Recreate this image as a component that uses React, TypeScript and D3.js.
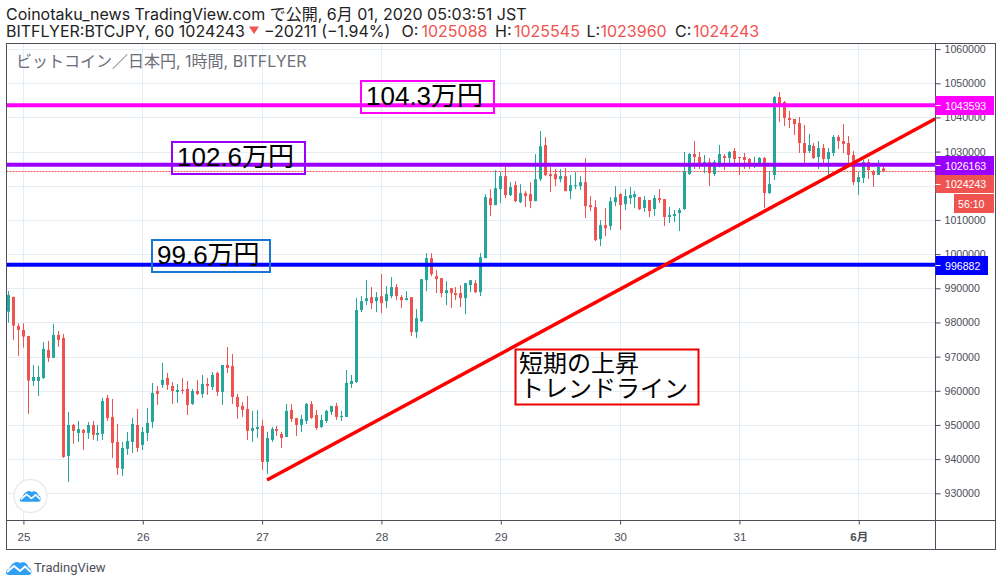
import { useEffect, useRef } from "react";
import * as d3 from "d3";

const opens = [
  983170, 987470, 978980, 977810, 976050, 962880, 962880, 963760, 971950, 969610,
  976340, 975470, 940930, 950000, 947660, 948540, 947660, 950000, 947080, 947370,
  957910, 952350, 945030, 937130, 943000, 945030, 950000, 944150, 947660, 950880,
  959960, 961710, 963760, 961420, 959660, 960250, 960540, 956150, 959960, 959080,
  962000, 961130, 965220, 959660, 967560, 967270, 958200, 955570, 954690, 948250,
  948830, 949710, 939180, 945620, 948830, 947370, 946490, 954400, 952050, 950000,
  951180, 956150, 952930, 949420, 951180, 953810, 955570, 952330, 952330, 961990,
  962580, 983600, 986240, 987410, 986240, 987700, 986240, 987700, 990340, 987410,
  986530, 987410, 977170, 980380, 992380, 998820, 993550, 992970, 988580, 990040,
  988580, 988580, 987110, 990920, 991500, 988870, 998820, 1016380, 1014330, 1019010,
  1022820, 1017260, 1020190, 1015210, 1017840, 1017550, 1015500, 1021940, 1031890, 1023400,
  1023400, 1021940, 1022820, 1018430, 1019890, 1019890, 1021060, 1014330, 1013750, 1004380,
  1008480, 1008190, 1015210, 1017550, 1014620, 1016380, 1016670, 1016670, 1013490, 1015830,
  1013200, 1016420, 1016130, 1010860, 1011150, 1012030, 1013200, 1023440, 1029290, 1028420,
  1026370, 1026950, 1023440, 1026560, 1028710, 1028120, 1030170, 1028420, 1028420, 1027830,
  1026370, 1026560, 1028120, 1017880, 1023150, 1045980, 1044510, 1039830, 1039540, 1038370,
  1032510, 1030170, 1031640, 1028420, 1031050, 1027830, 1029590, 1034270, 1033100, 1032510,
  1029000, 1021100, 1022270, 1026950, 1024320, 1023150, 1025088,
];

const highs = [
  989220, 987560, 979760, 979760, 976050, 967560, 967270, 974300, 974590, 979560,
  977510, 976640, 953810, 950300, 951180, 948830, 950880, 951180, 950000, 957910,
  958790, 957610, 950300, 945030, 947960, 952050, 954690, 949420, 954980, 962300,
  961420, 968150, 965220, 962590, 962000, 963760, 962880, 960540, 963170, 964640,
  963760, 965510, 965510, 967560, 972830, 970780, 959080, 956740, 958490, 954100,
  954400, 951470, 947960, 949420, 949710, 947960, 956150, 956150, 952050, 952930,
  956440, 957030, 954400, 952930, 954400, 955570, 956440, 954090, 966090, 964620,
  987160, 987700, 992380, 990340, 988870, 994140, 990630, 993260, 991210, 988000,
  989160, 987410, 983900, 992680, 1000280, 1000280, 995310, 992970, 992090, 990040,
  990340, 990920, 991500, 992380, 992380, 1000280, 1017550, 1019010, 1024570, 1023990,
  1025750, 1021060, 1021360, 1020480, 1018430, 1021060, 1029260, 1036000, 1034230, 1025450,
  1024870, 1024870, 1025160, 1023110, 1023990, 1022820, 1028090, 1016970, 1015800, 1009940,
  1013450, 1016670, 1019890, 1017840, 1019010, 1019600, 1018430, 1016670, 1017000, 1015830,
  1017300, 1019050, 1016130, 1013780, 1012910, 1013490, 1029880, 1029590, 1033100, 1029880,
  1029000, 1028120, 1027540, 1031930, 1029290, 1030170, 1031050, 1028420, 1029590, 1028120,
  1028510, 1028420, 1028420, 1024320, 1046270, 1047440, 1044800, 1041880, 1039540, 1040120,
  1037780, 1035150, 1032510, 1033100, 1032220, 1031050, 1034850, 1034850, 1038070, 1034560,
  1030170, 1024030, 1027540, 1027830, 1024610, 1027540, 1025545,
];

const lows = [
  979950, 974880, 970200, 972640, 953220, 961420, 958490, 963470, 968440, 969610,
  972830, 940350, 933320, 944450, 945030, 942690, 945910, 945620, 945320, 945620,
  951180, 940350, 935370, 935080, 941230, 941810, 942100, 942690, 945320, 949130,
  955860, 960830, 960250, 956150, 956440, 959080, 952930, 955860, 958790, 957910,
  958790, 960250, 958490, 955860, 965220, 956150, 951760, 952350, 945620, 945030,
  946200, 936840, 935670, 945030, 946790, 943280, 946490, 950880, 946790, 947960,
  950300, 951760, 948540, 949130, 950590, 952930, 951470, 951160, 952330, 960820,
  962280, 983020, 985070, 983900, 983020, 982730, 984190, 987110, 986530, 984190,
  986530, 976000, 975410, 980090, 989160, 993550, 988580, 987410, 985070, 984190,
  986530, 984480, 982430, 988870, 988580, 987700, 998820, 1011110, 1014330, 1014920,
  1016380, 1016970, 1015210, 1014920, 1013750, 1013450, 1015500, 1021360, 1022820, 1018140,
  1019890, 1021060, 1018430, 1016090, 1019010, 1018720, 1010530, 1012580, 1003800, 1002330,
  1005260, 1007020, 1014040, 1007020, 1012870, 1014620, 1013450, 1012870, 1012320, 1010860,
  1011150, 1014950, 1008220, 1009100, 1009390, 1006760, 1012910, 1023150, 1024900, 1024900,
  1023640, 1019930, 1022860, 1025390, 1024610, 1025590, 1026080, 1023150, 1024900, 1024900,
  1025200, 1026080, 1013490, 1017590, 1021690, 1038660, 1037490, 1036900, 1034850, 1029590,
  1026080, 1029590, 1027830, 1024900, 1026080, 1022860, 1028710, 1030760, 1029590, 1026080,
  1020220, 1017300, 1020810, 1021980, 1019640, 1023150, 1023960,
];

const closes = [
  988050, 979080, 977810, 975860, 962980, 964050, 964050, 972250, 969610, 976340,
  974880, 940640, 950000, 948250, 948830, 947660, 950000, 947080, 947660, 957030,
  952050, 944740, 937420, 943280, 945320, 950300, 943280, 947960, 950590, 959370,
  959080, 963170, 961710, 959960, 960250, 959960, 955860, 959960, 959080, 962000,
  961420, 964640, 959660, 967560, 966690, 958200, 955270, 954400, 948250, 949130,
  949420, 939180, 946200, 948830, 948250, 946200, 954100, 951760, 950000, 951760,
  956150, 952050, 949130, 951470, 954100, 955570, 952350, 952630, 962280, 962870,
  983650, 986240, 987110, 985650, 987410, 985650, 988290, 990340, 987700, 986530,
  987110, 977170, 981260, 992680, 998820, 994140, 992680, 988580, 989460, 988580,
  988000, 987110, 991500, 992380, 988870, 999110, 1016670, 1014330, 1019310, 1022820,
  1017260, 1019600, 1015500, 1017840, 1016970, 1015500, 1021940, 1031600, 1023110, 1022820,
  1021940, 1022820, 1018430, 1020190, 1020190, 1021060, 1014040, 1013750, 1004090, 1008480,
  1007600, 1015500, 1016670, 1014330, 1016970, 1017260, 1017550, 1013160, 1015830, 1012610,
  1016420, 1015830, 1010860, 1011440, 1011740, 1012910, 1024320, 1029290, 1028420, 1026660,
  1026950, 1023730, 1026950, 1029290, 1028120, 1029880, 1027830, 1028120, 1027540, 1026560,
  1026560, 1028120, 1017880, 1020510, 1045980, 1043930, 1039830, 1039250, 1038070, 1032510,
  1029590, 1031930, 1028120, 1031050, 1027830, 1029880, 1034270, 1033100, 1032220, 1029000,
  1021100, 1022560, 1026950, 1024610, 1023150, 1025490, 1024243,
];

const priceTicks = [
  930000, 940000, 950000, 960000, 970000, 980000, 990000, 1000000, 1010000, 1020000,
  1030000, 1040000, 1050000, 1060000,
];
const dayTicks = [3, 27, 51, 75, 99, 123, 147, 171];
const dayLabels = ["25", "26", "27", "28", "29", "30", "31", "6月"];

const levels = [
  { price: 1043593, color: "#ff00ff", label: "104.3万円", box: "#ff00ff" },
  { price: 1026163, color: "#9900ff", label: "102.6万円", box: "#9900ff" },
  { price: 996882, color: "#0000ff", label: "99.6万円", box: "#1976d2" },
];
const lastClose = 1024243;
const trendIdx = [52, 186.4];
const trendPrice = [933900, 1039600];

const GREEN = "#26a69a";
const RED = "#ef5350";
const GRID = "#e3edf3";
const BORDER = "#4c4e58";
const SANS = "'Liberation Sans', 'Noto Sans CJK JP', sans-serif";
const HEAD = "Inter, 'Noto Sans CJK JP', sans-serif";
const CLOUD = "M2,15 C-1,14 -0.5,9.5 3,9 C5,4 10,0 14,3 C17,1 22,3 22,7 C26,8 27,14 23,15 Z";

export default function App() {
  const svgRef = useRef<SVGSVGElement>(null);

  useEffect(() => {
    const svg = d3.select(svgRef.current);
    svg.selectAll("*").remove();

    const left = 6.5, right = 935.5, top = 43.5, bottom = 520.5;
    const outerR = 995.5, outerB = 549.5;

    const x = d3.scaleLinear().domain([0, 176]).range([8.5, 883.6]);
    const y = d3.scaleLinear().domain([930000, 1060000]).range([493.3, 49.1]);

    svg.append("rect").attr("width", 1002).attr("height", 586).attr("fill", "#fff");

    // Grid
    const grid = svg.append("g").attr("stroke", GRID).attr("stroke-width", 1);
    priceTicks.forEach((p) => {
      const py = Math.round(y(p)) + 0.5;
      grid.append("line").attr("x1", left).attr("x2", right).attr("y1", py).attr("y2", py);
    });
    dayTicks.forEach((d) => {
      const px = Math.floor(x(d)) + 0.5;
      grid.append("line").attr("x1", px).attr("x2", px).attr("y1", top).attr("y2", bottom);
    });

    svg.append("text")
      .attr("x", 16).attr("y", 67)
      .attr("font-family", HEAD).attr("font-size", 16).attr("fill", "#6b6e79")
      .text("ビットコイン／日本円, 1時間, BITFLYER");

    // Last price dotted line
    svg.append("line")
      .attr("x1", left).attr("x2", right)
      .attr("y1", Math.round(y(lastClose)) + 0.5).attr("y2", Math.round(y(lastClose)) + 0.5)
      .attr("stroke", RED).attr("stroke-dasharray", "2,1");

    // Candles
    const candles = svg.append("g");
    opens.forEach((o, i) => {
      const c = closes[i];
      const color = c >= o ? GREEN : RED;
      const cx = Math.floor(x(i));
      candles.append("line")
        .attr("x1", cx + 0.5).attr("x2", cx + 0.5)
        .attr("y1", y(highs[i])).attr("y2", y(lows[i]))
        .attr("stroke", color);
      candles.append("rect")
        .attr("x", cx - 1).attr("width", 3)
        .attr("y", y(Math.max(o, c)))
        .attr("height", Math.max(1, Math.abs(y(o) - y(c))))
        .attr("fill", color);
    });

    // Drawn levels
    levels.forEach((l) => {
      svg.append("line")
        .attr("x1", left).attr("x2", right)
        .attr("y1", y(l.price)).attr("y2", y(l.price))
        .attr("stroke", l.color).attr("stroke-width", 4);
    });

    // Trend line
    svg.append("line")
      .attr("x1", x(trendIdx[0])).attr("x2", x(trendIdx[1]))
      .attr("y1", y(trendPrice[0])).attr("y2", y(trendPrice[1]))
      .attr("stroke", "#ff0000").attr("stroke-width", 3.5);

    // Annotation boxes
    const boxes = [
      { x: 361, y: 81, w: 133, h: 32, tx: 366, ty: 105 },
      { x: 172, y: 142, w: 133, h: 32, tx: 177, ty: 165.5 },
      { x: 152, y: 240, w: 118, h: 32, tx: 157, ty: 264 },
    ];
    boxes.forEach((b, i) => {
      svg.append("rect")
        .attr("x", b.x).attr("y", b.y).attr("width", b.w).attr("height", b.h)
        .attr("fill", "none").attr("stroke", levels[i].box).attr("stroke-width", 2);
      svg.append("text")
        .attr("x", b.tx).attr("y", b.ty)
        .attr("font-family", SANS).attr("font-size", 26).attr("fill", "#000")
        .text(levels[i].label);
    });

    svg.append("rect")
      .attr("x", 515.5).attr("y", 349.5).attr("width", 183).attr("height", 55)
      .attr("fill", "none").attr("stroke", "#ee0000").attr("stroke-width", 2);
    svg.append("text")
      .attr("x", 519).attr("y", 372)
      .attr("font-family", SANS).attr("font-size", 24).attr("fill", "#000")
      .text("短期の上昇");
    svg.append("text")
      .attr("x", 520).attr("y", 397)
      .attr("font-family", SANS).attr("font-size", 24).attr("fill", "#000")
      .text("トレンドライン");

    // Axes
    const yAxis = svg.append("g")
      .attr("transform", `translate(${right},0)`)
      .call(d3.axisRight(y).tickValues(priceTicks).tickSize(5).tickPadding(4).tickFormat(d3.format("d") as any));
    yAxis.select(".domain").remove();
    yAxis.selectAll(".tick line").attr("stroke", BORDER);
    yAxis.selectAll(".tick text")
      .attr("fill", BORDER).attr("font-size", 10.6).attr("font-family", SANS);

    const xAxis = svg.append("g")
      .attr("transform", `translate(0,${bottom})`)
      .call(
        d3.axisBottom(x).tickValues(dayTicks).tickSize(4).tickPadding(8)
          .tickFormat((_d, i) => dayLabels[i]),
      );
    xAxis.select(".domain").remove();
    xAxis.selectAll(".tick line").attr("stroke", BORDER);
    xAxis.selectAll(".tick text")
      .attr("fill", BORDER).attr("font-size", 11.5).attr("font-family", SANS)
      .attr("font-weight", (_d, i) => (i === dayLabels.length - 1 ? 700 : 400));

    // Frame
    const frame = svg.append("g").attr("stroke", BORDER).attr("fill", "none");
    frame.append("rect").attr("x", left).attr("y", top)
      .attr("width", outerR - left).attr("height", outerB - top);
    frame.append("line").attr("x1", right).attr("x2", right).attr("y1", top).attr("y2", outerB);
    frame.append("line").attr("x1", left).attr("x2", outerR).attr("y1", bottom).attr("y2", bottom);

    // Price labels
    const tags = [
      { price: levels[0].price, color: levels[0].color, x1: 994, h: 19 },
      { price: levels[1].price, color: levels[1].color, x1: 994, h: 19 },
      { price: levels[2].price, color: levels[2].color, x1: 988, h: 19 },
    ];
    const tag = (color: string, x0: number, x1: number, y0: number, h: number, label: string, tx: number) => {
      svg.append("rect").attr("x", x0).attr("y", y0).attr("width", x1 - x0).attr("height", h).attr("fill", color);
      svg.append("text")
        .attr("x", tx).attr("y", y0 + h / 2 + 4)
        .attr("font-family", SANS).attr("font-size", 10.6).attr("fill", "#fff")
        .text(label);
    };
    tags.forEach((t) => {
      const mid = Math.round(y(t.price));
      tag(t.color, right, t.x1, mid - 9, t.h, String(t.price), 945);
      svg.append("line").attr("x1", right).attr("x2", right + 5)
        .attr("y1", mid + 0.5).attr("y2", mid + 0.5).attr("stroke", "#fff");
    });
    tag(RED, right, 994, 175, 18, String(lastClose), 945);
    svg.append("line").attr("x1", right).attr("x2", right + 5)
      .attr("y1", 184.5).attr("y2", 184.5).attr("stroke", "#fff");
    tag(RED, 954, 994, 194, 19, "56:10", 958);

    // Logo in the pane
    svg.append("circle").attr("cx", 30.5).attr("cy", 496).attr("r", 16.5)
      .attr("fill", "#fff").attr("stroke", "#ececec").attr("stroke-width", 1.5);
    const logo = (tx: number, ty: number, s: number) => {
      const g = svg.append("g").attr("transform", `translate(${tx},${ty}) scale(${s})`);
      g.append("path").attr("d", CLOUD).attr("fill", "#2f9ff3");
      g.append("polyline").attr("points", "1,12 8,6 14,11 19,6.5 25,12")
        .attr("fill", "none").attr("stroke", "#fff").attr("stroke-width", 2);
    };
    logo(20, 489.5, 0.82);
    logo(6, 560, 1);
    svg.append("text")
      .attr("x", 34).attr("y", 572)
      .attr("font-family", "Roboto, sans-serif").attr("font-size", 13).attr("fill", "#4c4e58")
      .text("TradingView");

    // Header
    const ink = "#222";
    const head = (tx: number, ty: number, s: string, fill = ink) =>
      svg.append("text").attr("x", tx).attr("y", ty)
        .attr("font-family", HEAD).attr("font-size", 16).attr("fill", fill).text(s);
    head(6, 20, "Coinotaku_news TradingView.com で公開, 6月 01, 2020 05:03:51 JST");
    head(6, 37, "BITFLYER:BTCJPY, 60 1024243");
    svg.append("path").attr("d", "M249,26.5 L259,26.5 L254,34 Z").attr("fill", RED);
    head(264, 37, "−20211 (−1.94%)");
    head(401.5, 37, "O:");
    head(421.5, 37, "1025088", RED);
    head(495, 37, "H:");
    head(514, 37, "1025545", RED);
    head(586.5, 37, "L:");
    head(600.5, 37, "1023960", RED);
    head(675, 37, "C:");
    head(693, 37, "1024243", RED);
  }, []);

  return <svg ref={svgRef} width={1002} height={586} style={{ position: "absolute", left: 0, top: 0 }} />;
}
